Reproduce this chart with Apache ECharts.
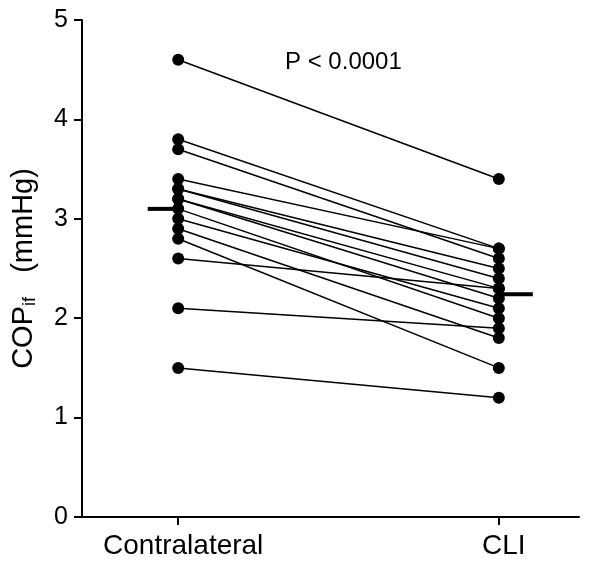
<!DOCTYPE html>
<html><head><meta charset="utf-8">
<script src="https://cdn.jsdelivr.net/npm/echarts@6/dist/echarts.min.js"></script>
<style>html,body{margin:0;padding:0;background:#fff}#c{width:592px;height:572px}</style>
</head><body><div id="c"></div>
<script>
const categories = ['Contralateral', 'CLI'];
const contralateral = [4.6, 3.8, 3.7, 3.4, 3.3, 3.3, 3.2, 3.2, 3.1, 3.0, 2.9, 2.8, 2.6, 2.1, 1.5];
const cli           = [3.4, 2.7, 2.6, 2.7, 2.5, 2.4, 2.2, 2.3, 2.0, 2.1, 1.8, 1.5, 2.3, 1.9, 1.2];
const yTicks = [0, 1, 2, 3, 4, 5];
const pText = 'P < 0.0001';

const mean = a => a.reduce((s, v) => s + v, 0) / a.length;
const meanL = mean(contralateral), meanR = mean(cli);

const series = contralateral.map((v, i) => ({
  type: 'line', data: [[0, v], [1, cli[i]]],
  symbol: 'circle', symbolSize: 12, z: 3,
  itemStyle: { color: '#000' }, lineStyle: { color: '#000', width: 1.5 },
  animation: false, silent: true
}));
series.push({ type: 'line', data: [[-0.095, meanL], [0, meanL]], symbol: 'none',
  lineStyle: { color: '#000', width: 4 }, animation: false, silent: true, z: 4 });
series.push({ type: 'line', data: [[1, meanR], [1.106, meanR]], symbol: 'none',
  lineStyle: { color: '#000', width: 4 }, animation: false, silent: true, z: 4 });

const chart = echarts.init(document.getElementById('c'), null, { renderer: 'canvas' });
chart.setOption({
  backgroundColor: '#fff',
  animation: false,
  grid: { left: 82, right: 13, top: 20, bottom: 55 },
  xAxis: {
    type: 'value', min: -0.3, max: 1.25,
    splitLine: { show: false },
    axisLine: { show: true, onZero: false, lineStyle: { color: '#000', width: 2 } },
    axisTick: { show: true, customValues: [0, 1], length: 8, lineStyle: { color: '#000', width: 2 } },
    axisLabel: { customValues: [0, 1], formatter: v => categories[Math.round(v)], color: '#000',
      fontFamily: 'Liberation Sans', fontSize: 28, margin: 15, padding: [0, 0, 0, 10] }
  },
  yAxis: {
    type: 'value', min: 0, max: 5, interval: 1,
    splitLine: { show: false },
    axisLine: { show: true, onZero: false, lineStyle: { color: '#000', width: 2 } },
    axisTick: { show: true, length: 8, lineStyle: { color: '#000', width: 2 } },
    axisLabel: { color: '#000', fontFamily: 'Liberation Sans', fontSize: 25, margin: 14,
      formatter: v => yTicks.includes(v) ? String(v) : '' },
    name: '{a|COP}{b|if}{a|   (mmHg)}',
    nameLocation: 'middle', nameRotate: 90, nameGap: 43,
    nameTextStyle: { rich: {
      a: { fontFamily: 'Liberation Sans', fontSize: 29, color: '#000' },
      b: { fontFamily: 'Liberation Sans', fontSize: 18, color: '#000', verticalAlign: 'bottom', padding: [13, 0, 0, 0] }
    } }
  },
  graphic: [{ type: 'text', x: 285, y: 62, style: { text: pText, font: '24px "Liberation Sans"', fill: '#000', verticalAlign: 'middle' } }],
  series
});
</script></body></html>
